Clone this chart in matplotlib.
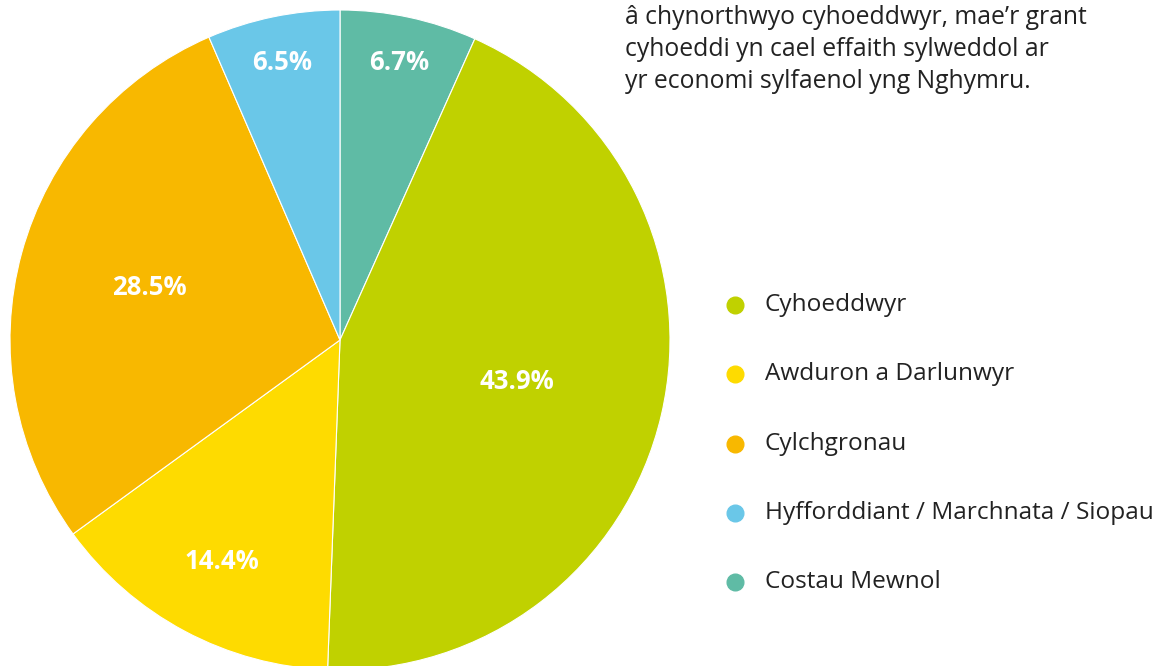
import numpy as np
import matplotlib.pyplot as plt
from matplotlib.lines import Line2D

# Data (clockwise from top)
labels = ['Costau Mewnol', 'Cyhoeddwyr', 'Awduron a Darlunwyr', 'Cylchgronau',
          'Hyfforddiant / Marchnata / Siopau']
values = [6.7, 43.9, 14.4, 28.5, 6.5]
colors = ['#5fbba5', '#c0d100', '#fedb00', '#f8b800', '#6ac7e8']
label_radius = [0.86, 0.55, 0.76, 0.6, 0.86]

legend_order = ['Cyhoeddwyr', 'Awduron a Darlunwyr', 'Cylchgronau',
                'Hyfforddiant / Marchnata / Siopau', 'Costau Mewnol']

intro_lines = ["â chynorthwyo cyhoeddwyr, mae\u2019r grant",
               "cyhoeddi yn cael effaith sylweddol ar",
               "yr economi sylfaenol yng Nghymru."]

plt.rcParams['font.family'] = ['Open Sans', 'DejaVu Sans']
W, H = 1160, 666
fig = plt.figure(figsize=(W / 100, H / 100), dpi=100)

# pie: centre (340, 340) px, radius 330 px
ax = fig.add_axes([10 / W, (H - 670) / H, 660 / W, 660 / H])
wedges, _ = ax.pie(values, colors=colors, startangle=90, counterclock=False,
                   wedgeprops=dict(edgecolor='white', linewidth=0.8))
ax.set_xlim(-1, 1)
ax.set_ylim(-1, 1)
ax.set_aspect('equal')
ax.axis('off')

for w, v, r in zip(wedges, values, label_radius):
    ang = np.deg2rad((w.theta1 + w.theta2) / 2)
    ax.text(r * np.cos(ang), r * np.sin(ang), f'{v}%', color='white',
            fontsize=18.5, fontweight='bold', ha='center', va='center')

# intro text
for i, line in enumerate(intro_lines):
    fig.text(625 / W, 1 - (18 + 31.5 * i) / H, line, fontsize=17.8,
             color='#222222', ha='left', va='center')

# legend
color_of = dict(zip(labels, colors))
for i, name in enumerate(legend_order):
    y = 1 - (305 + 69.3 * i) / H
    fig.add_artist(Line2D([735 / W], [y], marker='o', markersize=12,
                          color=color_of[name], transform=fig.transFigure))
    fig.text(765 / W, y, name, fontsize=17.6, color='#222222',
             ha='left', va='center')

fig.savefig('out.png', dpi=100)
